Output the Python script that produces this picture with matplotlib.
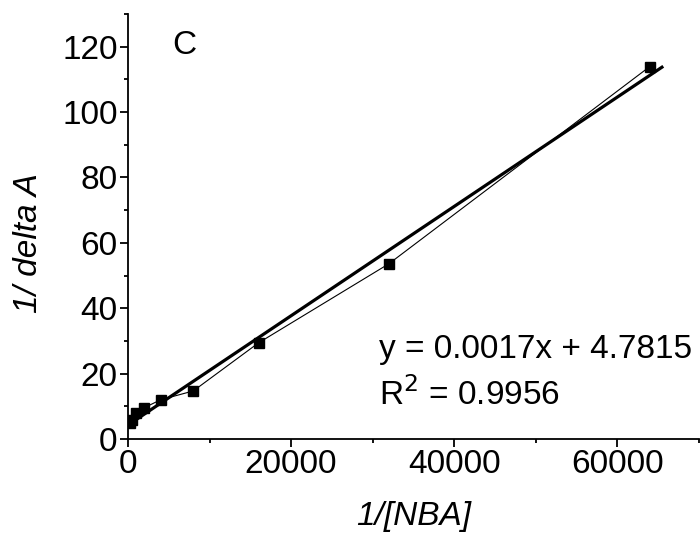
import numpy as np
import matplotlib
matplotlib.use("Agg")
import matplotlib.pyplot as plt
from matplotlib.ticker import MultipleLocator

# Dane
nba_inv = [250, 500, 1000, 2000, 4000, 8000, 16000, 32000, 64000]
delta_inv = [5.0, 5.8, 8.0, 9.6, 12.0, 14.7, 29.4, 53.6, 113.9]
fit_label = ["y = 0.0017x + 4.7815", "R$^2$ = 0.9956"]

plt.rcParams['font.family'] = ['Liberation Sans', 'DejaVu Sans']

fig = plt.figure(figsize=(7, 5.38), dpi=100)
ax = fig.add_axes([0.183, 0.184, 0.815, 0.79])

# dopasowanie liniowe
slope, intercept = np.polyfit(nba_inv, delta_inv, 1)
xfit = np.array([0, 65500])
ax.plot(xfit, slope * xfit + intercept, color='black', lw=2.3, zorder=2)
ax.plot(nba_inv, delta_inv, color='black', lw=0.8, marker='s', ms=6.5, zorder=3)

ax.set_xlim(0, 70000)
ax.set_ylim(0, 130)
ax.xaxis.set_major_locator(MultipleLocator(20000))
ax.xaxis.set_minor_locator(MultipleLocator(10000))
ax.yaxis.set_major_locator(MultipleLocator(20))
ax.yaxis.set_minor_locator(MultipleLocator(10))

for s in ['top', 'right']:
    ax.spines[s].set_visible(False)
for s in ['left', 'bottom']:
    ax.spines[s].set_linewidth(1.3)

ax.tick_params(which='major', length=5.5, width=1.3, labelsize=24, pad=2)
ax.tick_params(which='minor', length=3, width=1.3)

ax.set_xlabel('1/[NBA]', fontsize=24, style='italic', labelpad=15)
ax.set_ylabel('1/ delta A', fontsize=24, style='italic')
ax.yaxis.set_label_coords(-0.147, 0.46)

ax.text(0.077, 0.927, 'C', transform=ax.transAxes, fontsize=24, va='center')
ax.text(0.44, 0.21, fit_label[0], transform=ax.transAxes, fontsize=24, va='center')
ax.text(0.44, 0.105, fit_label[1], transform=ax.transAxes, fontsize=24, va='center')

fig.savefig('out.png', dpi=100)
